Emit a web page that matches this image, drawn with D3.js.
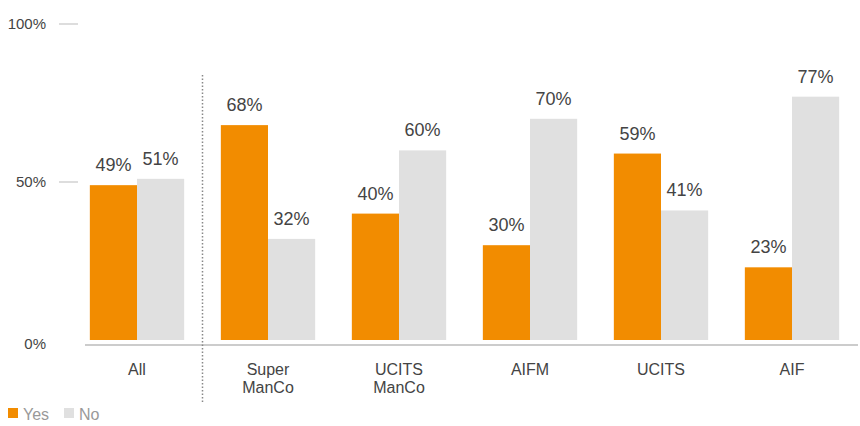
<!DOCTYPE html>
<html>
<head>
<meta charset="utf-8">
<script src="https://cdn.jsdelivr.net/npm/d3@7"></script>
<style>
  body { margin: 0; background: #fff; }
  text { font-family: "Liberation Sans", Arial, sans-serif; }
</style>
</head>
<body>
<script>
// data
const categories = ["All", "Super ManCo", "UCITS ManCo", "AIFM", "UCITS", "AIF"];
const yesValues = [49, 68, 40, 30, 59, 23];
const noValues = [51, 32, 60, 70, 41, 77];
const seriesNames = ["Yes", "No"];
const yTicks = [0, 50, 100];

const width = 860, height = 426;
const colors = {Yes: "#f28c00", No: "#e0e0e0"};

const svg = d3.select("body").append("svg")
  .attr("width", width)
  .attr("height", height);

// scales
const x = d3.scaleBand()
  .domain(categories)
  .range([71.5, 857.5])
  .paddingInner(0.28)
  .paddingOuter(0.14);

const xInner = d3.scaleBand()
  .domain(seriesNames)
  .range([0, x.bandwidth()]);

const y = d3.scaleLinear()
  .domain([0, 100])
  .range([340, 24]);

// y ticks: short dashes with labels
const yAxis = svg.append("g");
yAxis.selectAll("line")
  .data(yTicks.filter(d => d > 0))
  .join("line")
  .attr("x1", 59).attr("x2", 78)
  .attr("y1", d => y(d)).attr("y2", d => y(d))
  .attr("stroke", "#bbb")
  .attr("stroke-width", 1);
yAxis.selectAll("text")
  .data(yTicks)
  .join("text")
  .attr("x", 46)
  .attr("y", d => d === 0 ? y(d) + 9 : y(d) + 5)
  .attr("text-anchor", "end")
  .attr("font-size", "15px")
  .attr("fill", "#444")
  .text(d => d + "%");

// bars
const rows = categories.map((c, i) => ({cat: c, values: [
  {key: "Yes", value: yesValues[i]},
  {key: "No", value: noValues[i]}
]}));

const groups = svg.selectAll("g.grp")
  .data(rows)
  .join("g")
  .attr("class", "grp")
  .attr("transform", d => "translate(" + x(d.cat) + ",0)");

groups.selectAll("rect")
  .data(d => d.values)
  .join("rect")
  .attr("x", d => xInner(d.key))
  .attr("y", d => y(d.value))
  .attr("width", xInner.bandwidth())
  .attr("height", d => y(0) - y(d.value))
  .attr("fill", d => colors[d.key]);

groups.selectAll("text.val")
  .data(d => d.values)
  .join("text")
  .attr("class", "val")
  .attr("x", d => xInner(d.key) + xInner.bandwidth() / 2)
  .attr("y", d => y(d.value) - 14)
  .attr("text-anchor", "middle")
  .attr("font-size", "18px")
  .attr("fill", "#444")
  .text(d => d.value + "%");

// x axis line
svg.append("line")
  .attr("x1", 85).attr("x2", 858)
  .attr("y1", 345).attr("y2", 345)
  .attr("stroke", "#bbb")
  .attr("stroke-width", 1.5);

// category labels (two lines where needed)
groups.append("text")
  .attr("x", x.bandwidth() / 2)
  .attr("y", 375)
  .attr("text-anchor", "middle")
  .attr("font-size", "16px")
  .attr("fill", "#444")
  .selectAll("tspan")
  .data(d => d.cat.split(" "))
  .join("tspan")
  .attr("x", x.bandwidth() / 2)
  .attr("dy", (d, i) => i === 0 ? 0 : 18)
  .text(d => d);

// dotted separator between All and the rest
const sepX = (x(categories[0]) + x.bandwidth() + x(categories[1])) / 2;
svg.append("line")
  .attr("x1", sepX).attr("x2", sepX)
  .attr("y1", 75).attr("y2", 403)
  .attr("stroke", "#888")
  .attr("stroke-width", 1.5)
  .attr("stroke-dasharray", "1.5,2");

// legend
const legend = svg.append("g").attr("transform", "translate(8,408)");
const legItems = legend.selectAll("g")
  .data(seriesNames)
  .join("g")
  .attr("transform", (d, i) => "translate(" + (i * 56) + ",0)");
legItems.append("rect")
  .attr("width", 10).attr("height", 10)
  .attr("fill", d => colors[d]);
legItems.append("text")
  .attr("x", 15).attr("y", 12)
  .attr("font-size", "16px")
  .attr("fill", "#999")
  .text(d => d);
</script>
</body>
</html>
